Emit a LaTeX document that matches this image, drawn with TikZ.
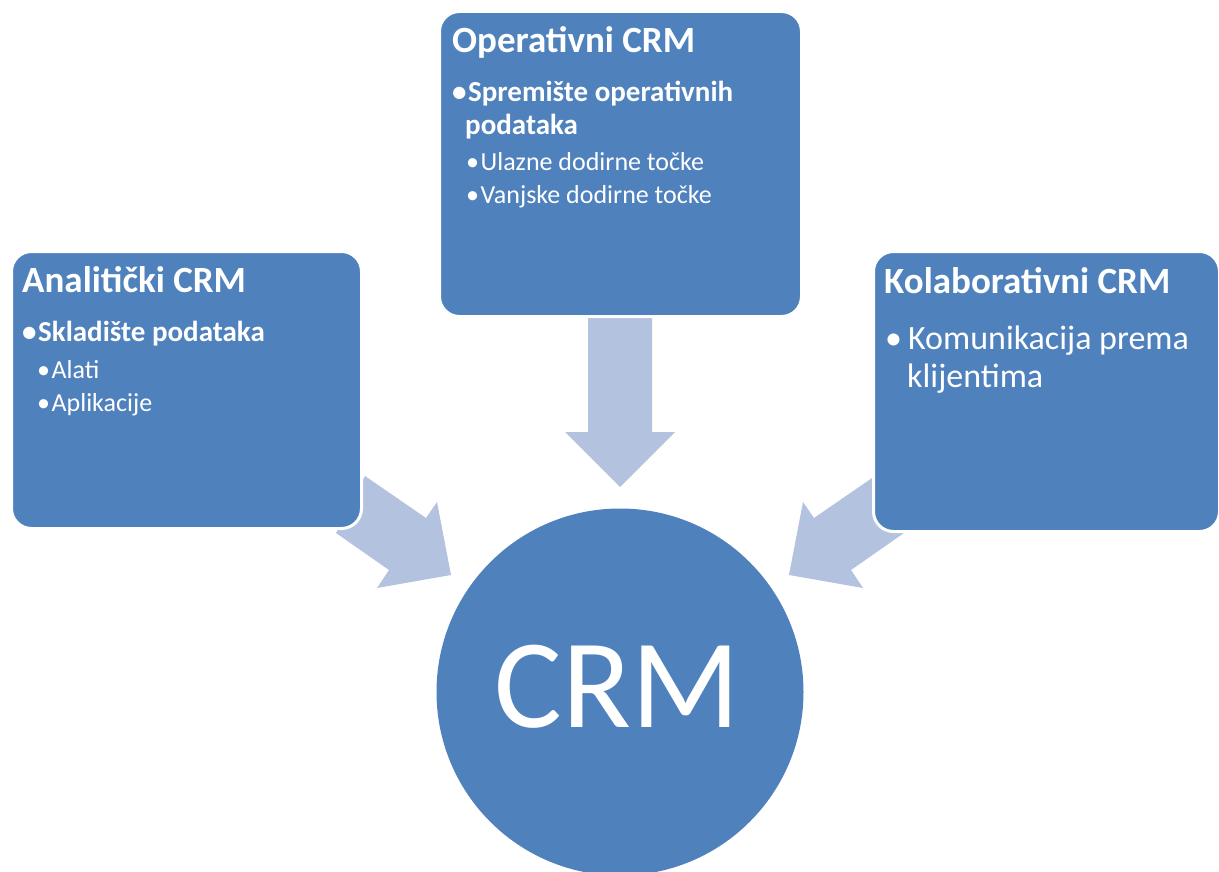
\documentclass[tikz,border=0pt]{standalone}
\usepackage{fontspec}
\setmainfont{Carlito}
\definecolor{boxblue}{RGB}{79,129,189}
\definecolor{arrowblue}{RGB}{179,194,222}
\tikzset{
  crmbox/.style={draw=white, line width=3pt, fill=boxblue, rounded corners=20pt, inner sep=0pt, anchor=north west},
  boxtitle/.style={anchor=base west, inner sep=0pt, text=white, font=\fontsize{37}{44}\selectfont\bfseries},
  levelone/.style={anchor=base west, inner sep=0pt, text=white, font=\fontsize{29}{35}\selectfont\bfseries},
  leveltwo/.style={anchor=base west, inner sep=0pt, text=white, font=\fontsize{26}{31}\selectfont},
  levelbig/.style={anchor=base west, inner sep=0pt, text=white, font=\fontsize{34}{41}\selectfont},
  blockarrow/.style={fill=arrowblue}
}
\newcommand{\blt}{•\kern1.5pt}
\begin{document}
\begin{tikzpicture}[x=1pt,y=-1pt]
\useasboundingbox (0,0) rectangle (1219,872);
% block arrows
\fill[blockarrow] (365,476) -- (426,518) -- (437,502) -- (451,575) -- (377,588) -- (389,570) -- (336,533) -- cycle; % left
\fill[blockarrow] (875,476) -- (814,518) -- (803,502) -- (789,575) -- (863,588) -- (851,570) -- (904,533) -- cycle; % right
\fill[blockarrow] (588,300) -- (652,300) -- (652,432) -- (675,432) -- (620,487) -- (565,432) -- (588,432) -- cycle; % top

% boxes
\node[crmbox, minimum width=350pt, minimum height=277pt] (analiticki) at (10,250) {};
\node[crmbox, minimum width=362pt, minimum height=305pt] (operativni) at (438,10) {};
\node[crmbox, minimum width=346pt, minimum height=280pt] (kolaborativni) at (872,250) {};
\node[circle, fill=boxblue, minimum size=367pt, inner sep=0pt] (crm) at (620,692) {};
\node[inner sep=0pt, text=white, font=\fontsize{127}{150}\selectfont] (crmtext) at (617,687) {CRM};

% left box text
\node[boxtitle] (anatitle) at (22,292) {Analitički CRM};
\node[levelone] (anaone) at (22,341) {\blt Skladište podataka};
\node[leveltwo] (anatwo) at (37,378) {\blt Alati};
\node[leveltwo] (anathree) at (37,411) {\blt Aplikacije};

% top box text
\node[boxtitle] (optitle) at (452,53) {Operativni CRM};
\node[levelone] (opone) at (452,102) {\blt Spremište operativnih};
\node[levelone] (optwo) at (465,135) {podataka};
\node[leveltwo] (opthree) at (466,171) {\blt Ulazne dodirne točke};
\node[leveltwo] (opfour) at (466,204) {\blt Vanjske dodirne točke};

% right box text
\node[boxtitle] (koltitle) at (884,293) {Kolaborativni CRM};
\node[levelbig] (kolone) at (885,349) {•\kern6pt Komunikacija prema};
\node[levelbig] (koltwo) at (907,387) {klijentima};
\end{tikzpicture}
\end{document}
